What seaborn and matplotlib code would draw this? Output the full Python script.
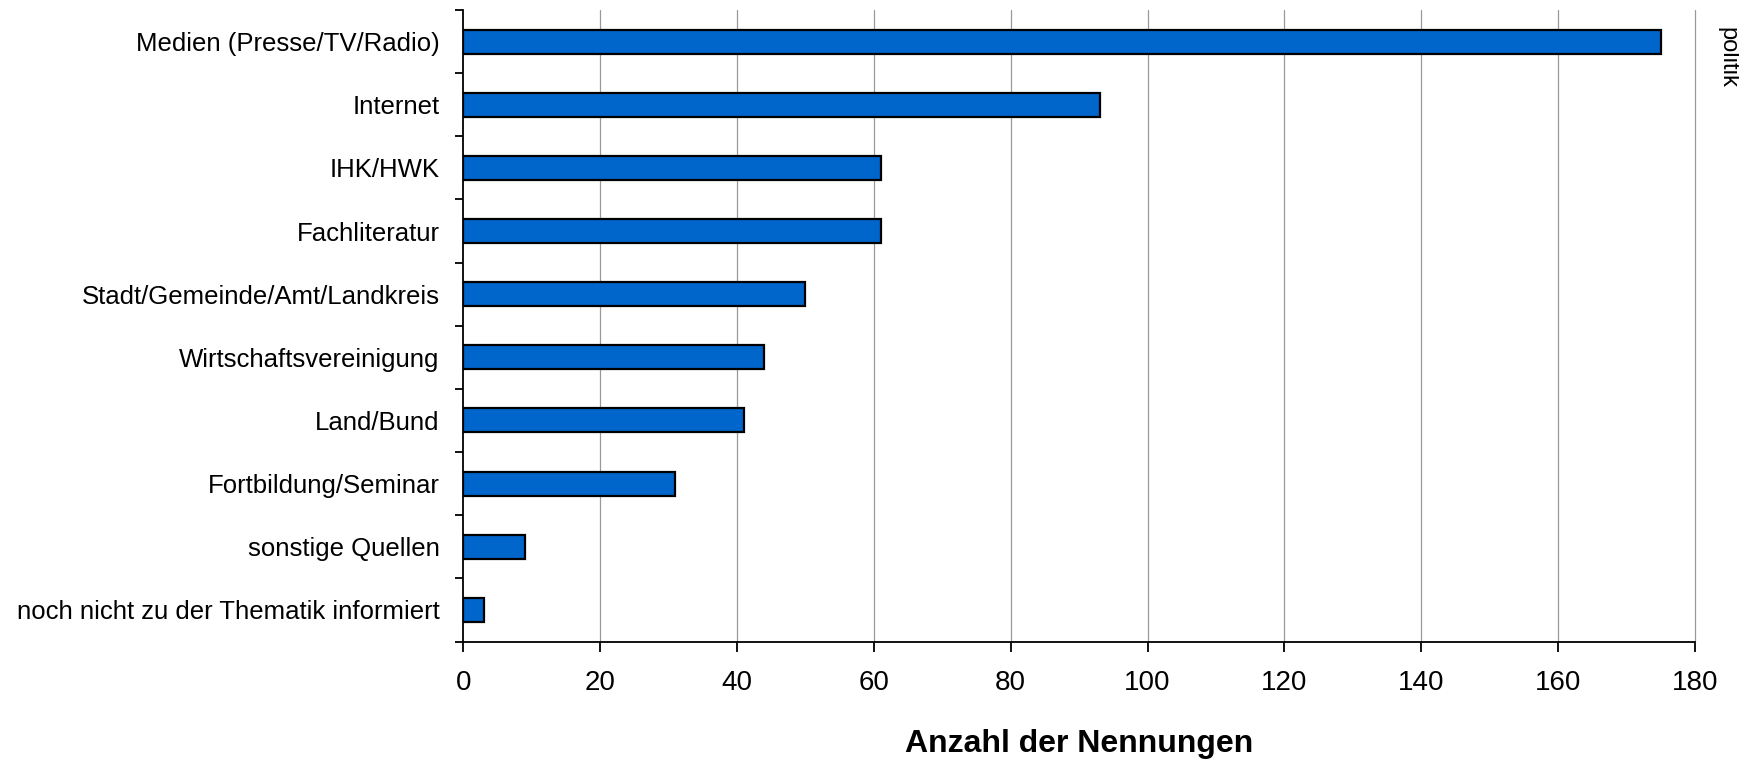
import matplotlib
matplotlib.use("Agg")
import matplotlib.pyplot as plt
import seaborn as sns
import pandas as pd
import numpy as np

categories = [
    "Medien (Presse/TV/Radio)",
    "Internet",
    "IHK/HWK",
    "Fachliteratur",
    "Stadt/Gemeinde/Amt/Landkreis",
    "Wirtschaftsvereinigung",
    "Land/Bund",
    "Fortbildung/Seminar",
    "sonstige Quellen",
    "noch nicht zu der Thematik informiert",
]
values = [175, 93, 61, 61, 50, 44, 41, 31, 9, 3]
x_ticks = [0, 20, 40, 60, 80, 100, 120, 140, 160, 180]
x_label = "Anzahl der Nennungen"
side_text = "politik"

sns.set_theme(style="white")
plt.rcParams["font.family"] = ["Liberation Sans", "DejaVu Sans"]
plt.rcParams["text.color"] = "black"
plt.rcParams["xtick.color"] = "black"
plt.rcParams["ytick.color"] = "black"
plt.rcParams["axes.labelcolor"] = "black"

df = pd.DataFrame({"Quelle": categories, "Anzahl": values})

fig = plt.figure(figsize=(17.39, 7.59), dpi=100)
ax = fig.add_axes([0.2664, 0.1548, 0.9747 - 0.2664, 0.9868 - 0.1548])

sns.barplot(data=df, x="Anzahl", y="Quelle", order=categories, orient="h",
            color="#0066CC", saturation=1, width=0.38,
            edgecolor="black", linewidth=1.6, ax=ax, zorder=3)

ax.set_xlim(0, 180)
ax.set_ylim(len(categories) - 0.5, -0.5)
ax.set_xticks(x_ticks)
ax.set_xticklabels([str(t) for t in x_ticks])

# grid
ax.grid(False)
for t in x_ticks[1:]:
    ax.axvline(t, color="#999999", linewidth=0.9, zorder=1, clip_on=False)

for s in ["top", "right"]:
    ax.spines[s].set_visible(False)
for s in ["left", "bottom"]:
    ax.spines[s].set_color("black")
    ax.spines[s].set_linewidth(1.3)
    ax.spines[s].set_zorder(4)

ax.tick_params(axis="x", which="major", direction="out", length=7.2, width=1.3,
               colors="black", labelsize=20, pad=13, bottom=True)
ax.tick_params(axis="y", which="major", length=0, labelsize=18.5, pad=17,
               colors="black")
ax.set_yticks(np.arange(-0.5, len(categories), 1.0), minor=True)
ax.tick_params(axis="y", which="minor", direction="out", length=5.8, width=1.3,
               color="black", left=True)

ax.set_ylabel("")
ax.set_xlabel(x_label, fontsize=23, fontweight="bold", color="black")
ax.xaxis.set_label_coords(0.5, -0.138)

fig.text(1738 / 1739, 1 - 88 / 759, side_text, rotation=270,
         ha="right", va="bottom", fontsize=17, color="black")

fig.savefig("out.png", dpi=100)
